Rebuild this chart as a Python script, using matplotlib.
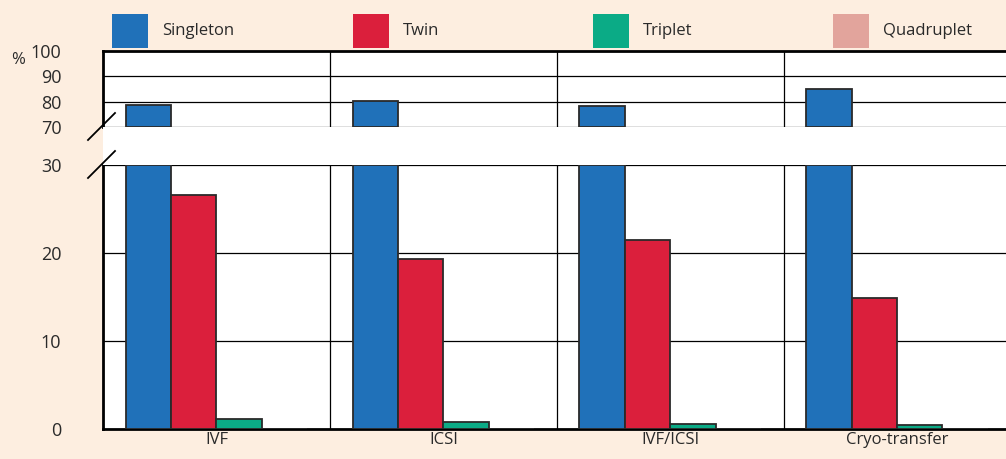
import matplotlib
matplotlib.use("Agg")
import matplotlib.pyplot as plt
import numpy as np
from matplotlib.patches import Rectangle
from matplotlib.lines import Line2D

plt.rcParams['font.family'] = ['Open Sans', 'DejaVu Sans']

categories = ["IVF", "ICSI", "IVF/ICSI", "Cryo-transfer"]
series = ["Singleton", "Twin", "Triplet", "Quadruplet"]
singleton = [78.7, 80.3, 78.3, 85.0]
twin = [26.6, 19.3, 21.5, 14.9]
triplet = [1.1, 0.8, 0.6, 0.5]
quadruplet = [0.02, 0.02, 0.02, 0.02]
colors = ["#2071b9", "#db1f3c", "#0bab86", "#e2a49c"]
bg = "#fdeee0"
txt = "#2a2a2a"

fig = plt.figure(figsize=(10.06, 4.59), dpi=100, facecolor=bg)
L = 103/1006; W = 1 - L
axb = fig.add_axes([L, 1-429/459, W, 264/459])
axt = fig.add_axes([L, 1-127/459, W, 76/459])
fig.patches.append(Rectangle((L, 1-165/459), W, 38/459, transform=fig.transFigure,
                             facecolor="white", edgecolor="none", zorder=0))

x = np.arange(len(categories))
w = 0.2
data = [singleton, twin, triplet, quadruplet]
for ax, lo, hi in ((axb, 0, 30), (axt, 70, 100)):
    ax.set_facecolor("white")
    for i, (vals, c) in enumerate(zip(data, colors)):
        v = np.asarray(vals)
        m = v > lo
        if m.any():
            ax.bar((x + (i - 1.5)*w)[m], np.minimum(v[m], hi) - lo, w, bottom=lo,
                   color=c, edgecolor="#2a2a2a", linewidth=1.3, zorder=3)
    ax.set_xlim(-0.5, 3.48)
    for xv in [0.5, 1.5, 2.5]:
        ax.axvline(xv, color="black", lw=0.9, zorder=1)
    ax.spines["right"].set_visible(False)
    ax.tick_params(length=0, labelsize=13, colors=txt, pad=30)
    ax.set_ylim(lo, hi)

axb.set_yticks([0, 10, 20, 30])
axb.spines["top"].set_visible(False)
axb.spines["bottom"].set_linewidth(2)
axb.spines["left"].set_linewidth(2)
for yv in [10, 20, 30]:
    axb.axhline(yv, color="black", lw=0.9, zorder=1)
axb.set_xticks(x)
axb.set_xticklabels(categories, fontsize=12)
axb.tick_params(axis="x", pad=2)

axt.set_yticks([70, 80, 90, 100])
axt.set_xticks([])
axt.spines["bottom"].set_visible(False)
axt.spines["top"].set_linewidth(2)
axt.spines["left"].set_linewidth(2)
for yv in [70, 80, 90]:
    axt.axhline(yv, color="black", lw=0.9, zorder=1)

fig.text(11/1006, 1-60/459, "%", fontsize=12, color=txt, va="center")

for y0 in [127, 165]:
    fig.add_artist(Line2D([88/1006, 115/1006], [1-(y0+13)/459, 1-(y0-14)/459],
                          transform=fig.transFigure, color="black", lw=1.3))

legx = [112, 353, 593, 833]
for xs, name, c in zip(legx, series, colors):
    fig.patches.append(Rectangle((xs/1006, 1-48/459), 36/1006, 34/459,
                                 transform=fig.transFigure, facecolor=c, edgecolor="none"))
    fig.text((xs+50)/1006, 1-31/459, name, fontsize=12, color=txt, va="center")

fig.savefig("out.png", dpi=100, facecolor=bg)
